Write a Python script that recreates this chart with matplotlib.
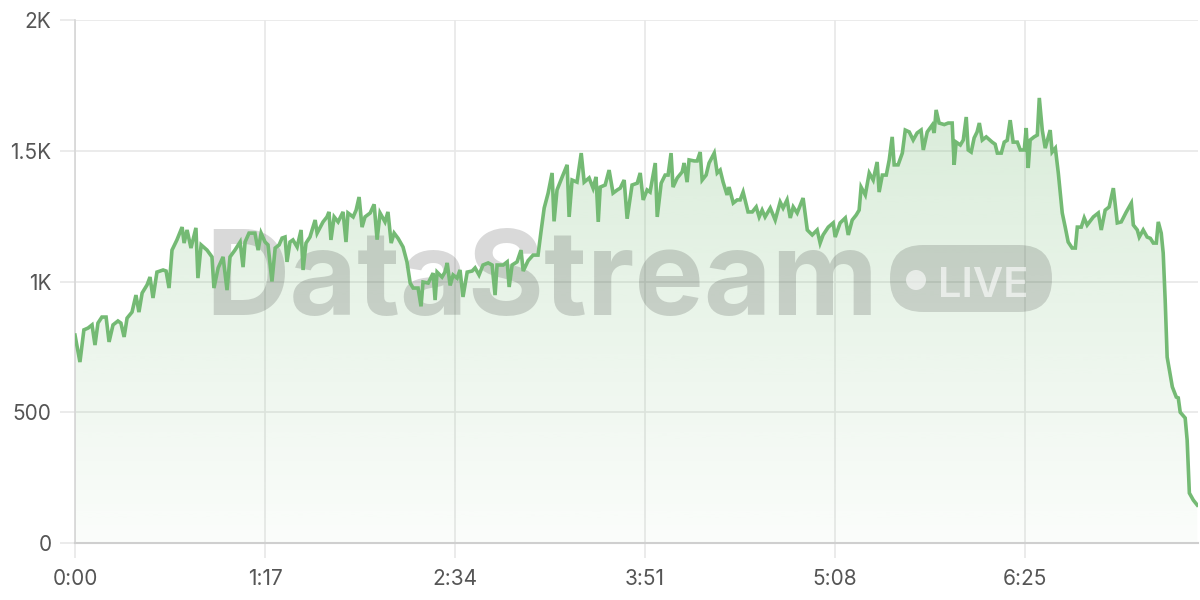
import numpy as np
import matplotlib
matplotlib.use('Agg')
import matplotlib.pyplot as plt
from matplotlib.patches import FancyBboxPatch, Circle, Polygon

plt.rcParams['font.family'] = ['Inter', 'DejaVu Sans']

# elapsed time in seconds and the value read at that time
t_sec = [0.0, 2.0, 3.6, 5.3, 6.9, 8.1, 9.3, 10.9, 12.6, 13.8,
         15.4, 17.4, 18.6, 19.9, 21.1, 23.1, 24.7, 25.9, 27.2, 29.2,
         30.4, 31.6, 33.2, 35.7, 36.9, 38.1, 39.3, 41.3, 43.4, 44.2,
         45.4, 47.0, 49.0, 49.8, 51.1, 53.5, 55.5, 56.3, 58.0, 60.0,
         61.6, 62.8, 64.8, 66.9, 68.1, 68.9, 70.5, 72.9, 74.2, 75.4,
         77.0, 78.2, 79.8, 81.1, 82.7, 83.9, 85.1, 85.9, 87.1, 88.3,
         90.0, 91.6, 92.4, 93.6, 95.2, 97.3, 98.1, 100.5, 102.1, 102.9,
         103.7, 105.0, 106.6, 108.6, 109.8, 110.6, 112.7, 113.9, 115.1, 116.3,
         117.5, 119.6, 121.2, 122.4, 123.6, 125.6, 126.8, 128.1, 129.3, 130.9,
         132.9, 134.5, 135.8, 137.0, 139.0, 140.2, 141.0, 143.1, 145.1, 145.9,
         146.7, 148.7, 149.9, 150.8, 152.0, 153.2, 154.8, 156.0, 157.2, 158.9,
         160.9, 162.1, 163.7, 165.3, 167.4, 169.0, 170.2, 171.0, 173.5, 175.1,
         175.9, 177.1, 179.1, 180.7, 181.6, 183.6, 185.6, 187.6, 188.9, 190.1,
         191.7, 193.3, 194.1, 195.3, 197.4, 199.4, 200.2, 201.4, 203.4, 205.1,
         206.3, 208.3, 209.9, 211.1, 212.0, 212.8, 214.8, 216.4, 218.0, 219.7,
         220.9, 222.5, 223.7, 225.7, 227.8, 229.0, 230.2, 231.8, 233.0, 235.1,
         235.9, 237.5, 239.1, 240.3, 241.5, 242.3, 244.0, 246.0, 246.8, 248.0,
         248.8, 250.9, 252.1, 253.3, 254.1, 255.7, 256.9, 259.0, 260.2, 261.4,
         262.6, 264.2, 265.0, 266.7, 268.3, 269.5, 270.7, 272.7, 274.4, 276.0,
         277.2, 278.4, 279.6, 281.7, 283.7, 285.7, 286.9, 288.5, 289.8, 291.0,
         292.6, 295.0, 296.7, 298.7, 300.7, 301.9, 303.1, 305.2, 307.2, 308.0,
         310.0, 312.1, 313.3, 314.9, 316.5, 317.7, 318.5, 320.2, 321.8, 323.4,
         325.0, 325.8, 327.1, 328.7, 329.9, 331.1, 331.9, 333.5, 335.2, 336.4,
         338.0, 339.6, 341.2, 342.8, 343.7, 345.3, 347.3, 348.1, 348.9, 350.1,
         352.2, 353.8, 355.4, 356.2, 357.0, 358.7, 359.9, 361.1, 361.9, 363.1,
         364.3, 365.5, 366.4, 367.6, 369.2, 371.6, 372.8, 373.7, 375.3, 376.5,
         377.7, 378.9, 380.1, 381.8, 383.0, 384.6, 385.4, 386.2, 387.0, 388.6,
         389.9, 390.7, 391.9, 393.1, 395.1, 395.9, 397.2, 398.4, 400.0, 401.2,
         402.4, 404.0, 405.3, 406.1, 407.7, 408.9, 410.1, 412.6, 414.6, 415.8,
         417.4, 419.0, 420.7, 422.3, 423.9, 425.9, 428.0, 428.8, 430.4, 431.2,
         432.8, 434.4, 435.7, 436.9, 438.1, 438.9, 440.1, 440.9, 441.7, 442.5,
         444.6, 446.2, 447.0, 447.8, 449.8, 450.6, 451.5, 453.1, 454.7]

values = [795, 692, 815, 822, 834, 757, 841, 864, 864, 769,
          834, 849, 841, 788, 860, 883, 948, 883, 956, 987,
          1017, 937, 1036, 1044, 1040, 975, 1120, 1159, 1208, 1147,
          1197, 1128, 1205, 1013, 1140, 1120, 1094, 975, 1052, 1094,
          967, 1094, 1120, 1151, 1055, 1151, 1185, 1185, 1120, 1185,
          1151, 1140, 1000, 1128, 1140, 1166, 1170, 1075, 1151, 1159,
          1132, 1197, 1044, 1147, 1170, 1235, 1185, 1228, 1247, 1266,
          1159, 1247, 1228, 1266, 1151, 1262, 1247, 1273, 1323, 1208,
          1247, 1262, 1295, 1160, 1262, 1228, 1266, 1147, 1185, 1165,
          1132, 1075, 994, 975, 975, 905, 998, 994, 1032, 929,
          1036, 1017, 1036, 1071, 985, 1025, 1013, 1044, 941, 1036,
          1040, 1052, 1025, 1063, 1071, 1063, 948, 1063, 1063, 1075,
          979, 1063, 1075, 1120, 1040, 1080, 1101, 1101, 1197, 1281,
          1338, 1415, 1230, 1350, 1400, 1446, 1247, 1388, 1380, 1491,
          1380, 1396, 1357, 1400, 1228, 1361, 1369, 1426, 1338, 1350,
          1357, 1388, 1240, 1369, 1376, 1415, 1312, 1350, 1342, 1453,
          1247, 1376, 1407, 1407, 1491, 1361, 1396, 1419, 1453, 1380,
          1465, 1461, 1461, 1495, 1388, 1407, 1453, 1491, 1415, 1426,
          1380, 1331, 1361, 1300, 1312, 1312, 1342, 1266, 1266, 1285,
          1247, 1273, 1247, 1281, 1235, 1304, 1281, 1312, 1243, 1285,
          1262, 1319, 1197, 1178, 1197, 1147, 1178, 1208, 1224, 1170,
          1224, 1243, 1178, 1235, 1254, 1273, 1361, 1331, 1415, 1388,
          1457, 1342, 1407, 1407, 1465, 1553, 1446, 1446, 1491, 1579,
          1572, 1541, 1568, 1579, 1503, 1572, 1598, 1568, 1656, 1606,
          1600, 1606, 1606, 1446, 1533, 1522, 1541, 1629, 1503, 1495,
          1549, 1572, 1606, 1541, 1553, 1533, 1525, 1491, 1491, 1533,
          1540, 1617, 1533, 1533, 1503, 1503, 1587, 1434, 1541, 1553,
          1560, 1702, 1579, 1510, 1579, 1495, 1510, 1415, 1262, 1208,
          1151, 1128, 1128, 1208, 1208, 1243, 1216, 1247, 1262, 1197,
          1273, 1285, 1357, 1224, 1228, 1265, 1300, 1216, 1197, 1170,
          1197, 1170, 1165, 1147, 1147, 1228, 1185, 1109, 929, 711,
          597, 558, 555, 500, 478, 394, 191, 164, 145]

x_ticks = [0, 77, 154, 231, 308, 385]
x_labels = ['0:00', '1:17', '2:34', '3:51', '5:08', '6:25']
y_ticks = [0, 500, 1000, 1500, 2000]
y_labels = ['0', '500', '1K', '1.5K', '2K']

assert len(t_sec) == len(values)
t = np.array(t_sec)
v = np.array(values)

line_col = '#74ba74'
grid_col = '#e8e8e8'

fig = plt.figure(figsize=(12, 6), dpi=100)
ax = fig.add_axes([75/1200, 57/600, 1123/1200, 523/600])
ax.set_xlim(0, t[-1] + 0.3)
ax.set_ylim(0, 2000)

# gradient fill under the line
grad = np.linspace(0.03, 0.28, 256).reshape(-1, 1)
rgba = np.zeros((256, 1, 4))
rgba[..., 0] = 0x74/255
rgba[..., 1] = 0xba/255
rgba[..., 2] = 0x74/255
rgba[..., 3] = grad
im = ax.imshow(rgba, extent=[0, t[-1], 0, 1750], origin='lower',
               aspect='auto', zorder=1, interpolation='bilinear')
poly = Polygon(np.column_stack([np.r_[t[0], t, t[-1]], np.r_[0, v, 0]]),
               closed=True, facecolor='none', edgecolor='none',
               transform=ax.transData)
ax.add_patch(poly)
im.set_clip_path(poly)

ax.plot(t, v, color=line_col, lw=2.6, zorder=5, solid_joinstyle='miter')

# grid / axes styling
ax.set_xticks(x_ticks)
ax.set_xticklabels(x_labels)
ax.set_yticks(y_ticks)
ax.set_yticklabels(y_labels)
ax.grid(True, color=grid_col, lw=1.2, zorder=0)
ax.set_axisbelow(True)
ax.tick_params(axis='both', colors=grid_col, labelcolor='#555555',
               labelsize=15, length=11, width=1.2)
ax.tick_params(axis='y', pad=6)
ax.tick_params(axis='x', pad=8)
for s in ['top', 'right']:
    ax.spines[s].set_visible(False)
ax.spines['left'].set_color('#d6d6d6')
ax.spines['bottom'].set_color('#cfcfcf')
ax.spines['left'].set_linewidth(1.2)
ax.spines['bottom'].set_linewidth(1.5)

# watermark
ax.text(0.1158, 0.436, 'DataStream', transform=ax.transAxes, fontsize=84,
        fontweight='bold', color='black', alpha=0.15, ha='left',
        va='baseline', zorder=3)
pill = FancyBboxPatch((8.9, 2.88), 1.62, 0.67,
                      boxstyle='round,pad=0,rounding_size=0.33',
                      transform=fig.dpi_scale_trans, facecolor='black',
                      edgecolor='none', alpha=0.14, zorder=3)
ax.add_patch(pill)
pill.set_clip_on(False)
dot = Circle((9.16, 3.2), 0.1, transform=fig.dpi_scale_trans,
             facecolor='white', edgecolor='none', alpha=0.6, zorder=4)
ax.add_patch(dot)
dot.set_clip_on(False)
fig.text(9.38/12, 3.03/6, 'LIVE', fontsize=30, fontweight='semibold',
         color='white', alpha=0.6, ha='left', va='baseline', zorder=4)

fig.savefig('out.png', dpi=100)
